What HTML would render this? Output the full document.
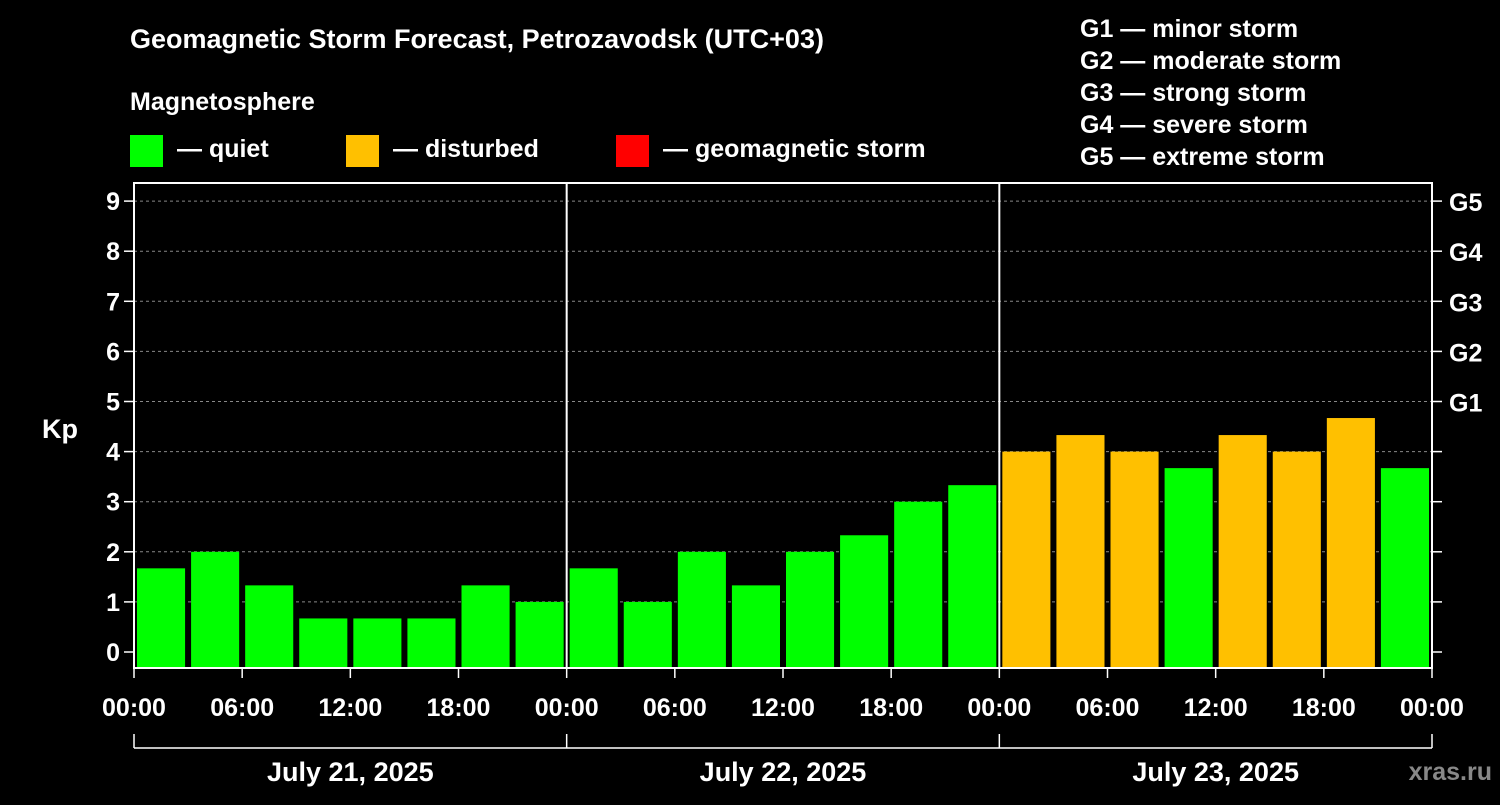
<!DOCTYPE html>
<html><head><meta charset="utf-8"><style>
body{margin:0;background:#000;width:1500px;height:800px;overflow:hidden}
svg text{font-family:"Liberation Sans",Arial,sans-serif;font-weight:bold;fill:#fff}
</style></head><body>
<svg id="c" width="1500" height="800">
<text x="130" y="48" font-size="27">Geomagnetic Storm Forecast, Petrozavodsk (UTC+03)</text>
<text x="130" y="110" font-size="25">Magnetosphere</text>
<rect x="130" y="135" width="33" height="32" fill="#00ff00"/>
<text x="177" y="157" font-size="25">— quiet</text>
<rect x="346" y="135" width="33" height="32" fill="#ffc000"/>
<text x="393" y="157" font-size="25">— disturbed</text>
<rect x="616" y="135" width="33" height="32" fill="#ff0000"/>
<text x="663" y="157" font-size="25">— geomagnetic storm</text>
<g font-size="25">
<text x="1080" y="37">G1 — minor storm</text>
<text x="1080" y="69">G2 — moderate storm</text>
<text x="1080" y="101">G3 — strong storm</text>
<text x="1080" y="133">G4 — severe storm</text>
<text x="1080" y="165">G5 — extreme storm</text>
</g>
<text x="42" y="438" font-size="27">Kp</text>
<text x="1492" y="780" font-size="25" text-anchor="end" style="fill:#888">xras.ru</text>
<g id="plot"></g>
</svg>
<script>
const days=["July 21, 2025","July 22, 2025","July 23, 2025"];
const kpValues=[1.67,2,1.33,0.67,0.67,0.67,1.33,1,1.67,1,2,1.33,2,2.33,3,3.33,4,4.33,4,3.67,4.33,4,4.67,3.67];
const yTicks=[0,1,2,3,4,5,6,7,8,9];
const gLabels=["G1","G2","G3","G4","G5"];
const gLevels=[5,6,7,8,9];
const hourLabels=["00:00","06:00","12:00","18:00"];
const L=134,R=1432,T=183,B=668;
const y=v=>652-50.1*v;
const nBars=kpValues.length, bw=(R-L)/nBars;
const x=i=>L+i*bw;
const g=document.getElementById('plot');
const NS="http://www.w3.org/2000/svg";
function mk(t,a,txt){const e=document.createElementNS(NS,t);for(const k in a)e.setAttribute(k,a[k]);if(txt!=null)e.textContent=txt;g.appendChild(e);return e;}
yTicks.forEach(v=>{
 if(v>0){const l=mk('line',{x1:L,x2:R,y1:y(v),y2:y(v),stroke:'#888','stroke-dasharray':'3,3'});
 
 }
 const t=mk('line',{x1:L-10,x2:L,y1:y(v),y2:y(v),stroke:'#fff','stroke-width':1.5});
 
 
 const t2=mk('line',{x1:R,x2:R+10,y1:y(v),y2:y(v),stroke:'#fff','stroke-width':1.5});
 
 
 const lb=mk('text',{x:L-14,y:y(v)+9,'font-size':25,'text-anchor':'end'},String(v));
 
 
});
gLabels.forEach((s,i)=>{
 const lb=mk('text',{x:R+17,y:y(gLevels[i])+10,'font-size':25},s);
 
 
});
kpValues.forEach((v,i)=>{
 const r=mk('rect',{x:x(i)+3,y:y(v),width:bw-6,height:B-y(v),fill:v>=5?'#ff0000':(v>=4?'#ffc000':'#00ff00')});
 
 
});
const fr=mk('rect',{x:L,y:T,width:R-L,height:B-T,fill:'none',stroke:'#fff','stroke-width':2});


const dw=(R-L)/days.length;
days.forEach((d,di)=>{
 const x0=L+di*dw;
 if(di>0){const s=mk('line',{x1:x0,x2:x0,y1:T,y2:B,stroke:'#fff','stroke-width':2});
 
 }
 hourLabels.forEach((h,hi)=>{
  const xx=x0+hi*dw/4;
  const tk=mk('line',{x1:xx,x2:xx,y1:B,y2:B+10,stroke:'#fff','stroke-width':1.5});
  
  
  const lb=mk('text',{x:xx,y:716,'font-size':25,'text-anchor':'middle'},h);
  
  
 });
 const dl=mk('text',{x:x0+dw/2,y:781,'font-size':27,'text-anchor':'middle'},d);
 
 
 const br=mk('line',{x1:x0,x2:x0,y1:734,y2:748,stroke:'#fff','stroke-width':1.5});
 
 
});
const xl=mk('line',{x1:R,x2:R,y1:B,y2:B+10,stroke:'#fff','stroke-width':1.5});


const ll=mk('text',{x:R,y:716,'font-size':25,'text-anchor':'middle'},'00:00');


const be=mk('line',{x1:R,x2:R,y1:734,y2:748,stroke:'#fff','stroke-width':1.5});


const bl=mk('line',{x1:L,x2:R,y1:748,y2:748,stroke:'#fff','stroke-width':1.5});


</script>
</body></html>
